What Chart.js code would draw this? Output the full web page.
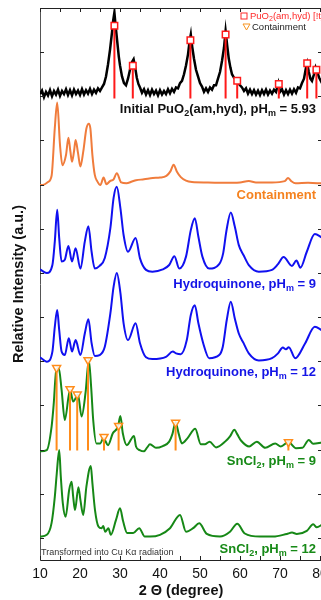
<!DOCTYPE html>
<html>
<head>
<meta charset="utf-8">
<script src="https://cdn.jsdelivr.net/npm/chart.js@4.4.1/dist/chart.umd.min.js"></script>
<style>
html, body { margin: 0; padding: 0; background: #fff; overflow: hidden; }
#wrap { width: 330px; height: 600px; }
</style>
</head>
<body>
<div id="wrap"><canvas id="xrdChart" width="330" height="600"></canvas></div>
<script>
// axis ticks (2 theta, offset units on the intensity axis)
const xTickValues = [10, 15, 20, 25, 30, 35, 40, 45, 50, 55, 60, 65, 70, 75, 80];
const yTickValues = [0, 1, 2, 3, 4, 5, 6, 7, 8, 9, 10, 11];

// Initial PuO2(am,hyd), pHm = 5.93 (black, noisy)
const initialX = [10,10.5,11,11.5,12,12.5,13,13.5,14,14.5,15,15.5,16,16.5,17,17.5,18,18.5,19,19.5,20,20.5,21,21.5,22,22.5,23,23.5,24,24.5,25,25.5,26,26.5,27,27.5,28,28.3,28.6,28.9,29.3,29.7,30,30.5,31,31.5,32,32.5,33,33.4,33.8,34.2,34.6,35,35.5,36,36.5,37,37.5,38,38.5,39,39.5,40,40.5,41,41.5,42,42.5,43,43.5,44,44.5,45,45.5,46,46.5,47,47.4,47.7,48,48.5,49,49.5,50,50.5,51,51.5,52,52.5,53,53.5,54,54.5,55,55.5,56,56.4,56.8,57.2,57.6,58,58.5,59,59.5,60,60.5,61,61.5,62,62.5,63,63.5,64,64.5,65,65.5,66,66.5,67,67.5,68,68.5,69,69.6,70,70.5,71,71.5,72,72.5,73,73.5,74,74.5,75,75.5,76,76.5,76.8,77.2,77.6,78,78.5,78.9,79.3,79.8,80.5];
const initialY = [10.05,10.13,9.98,10.10,10.02,10.14,10.00,10.12,10.04,10.15,10.01,10.12,10.05,10.16,10.03,10.14,10.02,10.15,10.05,10.13,10.03,10.16,10.04,10.14,10.06,10.17,10.05,10.15,10.08,10.18,10.12,10.2,10.28,10.45,10.72,11.05,11.45,11.72,11.9,11.6,11.25,10.9,10.7,10.45,10.3,10.25,10.4,10.6,10.78,10.84,10.65,10.42,10.28,10.2,10.08,10.16,10.04,10.14,10.03,10.15,10.05,10.13,10.02,10.14,10.04,10.12,10.05,10.16,10.07,10.17,10.1,10.2,10.18,10.3,10.35,10.5,10.7,10.95,11.25,11.4,11.15,10.85,10.6,10.45,10.3,10.22,10.1,10.18,10.1,10.2,10.15,10.25,10.25,10.4,10.55,10.8,11.1,11.48,11.15,10.85,10.65,10.5,10.42,10.38,10.3,10.25,10.2,10.12,10.18,10.06,10.15,10.05,10.14,10.04,10.13,10.03,10.14,10.05,10.15,10.04,10.13,10.06,10.15,10.1,10.3,10.1,10.16,10.04,10.14,10.05,10.15,10.06,10.16,10.08,10.2,10.18,10.3,10.4,10.65,10.75,10.55,10.4,10.35,10.5,10.65,10.55,10.42,10.3];

// PuO2(am,hyd) reference sticks
const puStickX = [28.6, 33.2, 47.6, 56.4, 59.3, 69.7, 76.8, 79.1];
const puStickTop = [11.6, 10.69, 11.27, 11.4, 10.35, 10.28, 10.75, 10.6];
const puStickBase = 9.95;

// Containment (orange)
const containX = [10,11,12,12.9,13.7,14.3,15.0,15.6,16.5,17.1,17.6,18.0,18.5,18.9,19.5,20.1,20.8,21.6,22.2,22.6,23.1,23.7,24.3,25.1,25.9,26.6,27.5,28.4,29.2,30.3,31.6,33,34,36,38.2,40,41.6,42.6,43.4,44.2,45.2,46.5,48,52,56,60,62.2,64,68,71.2,72,72.8,73.9,77,80.5];
const containY = [7.99,8.0,8.06,8.2,9.28,9.86,8.9,8.44,8.67,9.06,8.75,8.52,8.75,9.01,8.72,8.41,8.74,9.27,9.38,9.27,8.67,8.22,8.08,7.99,8.16,8.01,8.08,8.12,8.26,8.05,8.03,8.07,8.1,8.12,8.15,8.16,8.2,8.3,8.45,8.3,8.17,8.09,8.06,8.05,8.04,8.05,8.08,8.05,8.05,8.08,8.15,8.08,8.03,8.04,8.03];

// Hydroquinone, pHm = 9 (blue)
const hq9X = [10,11.7,13.1,13.7,14.3,14.8,15.4,16.2,17.1,18.0,18.9,20.1,21.2,22.1,22.9,23.7,24.9,26.2,27.6,28.4,29.2,30.1,30.9,32.0,33.9,35.0,36.5,38.1,40.7,42.3,43.6,44.8,46.5,47.7,48.7,49.6,50.6,52.3,54.8,55.8,56.6,57.7,58.7,59.7,60.9,62.2,64.7,68,69.5,70.9,73,74.1,75.1,76.7,78.7,80.5];
const hq9Y = [6.08,6.0,6.18,6.71,7.43,6.79,6.26,6.3,6.61,6.26,6.56,6.1,6.71,7.06,6.48,6.1,6.16,6.34,7.02,7.7,7.95,7.47,6.86,6.48,6.79,6.33,6.07,6.03,6.08,6.18,6.38,6.1,6.37,6.97,7.24,6.82,6.37,6.1,6.2,6.45,6.95,7.37,7.05,6.63,6.4,6.18,6.03,6.07,6.2,6.36,6.16,6.28,6.12,6.48,6.88,6.8];

// Hydroquinone, pHm = 12 (blue)
const hq12X = [10,11.7,13.1,13.7,14.3,14.8,15.4,16.2,17.2,18.0,18.9,20.1,21.2,22.1,22.9,23.7,24.9,26.2,27.6,28.4,29.2,30.1,30.9,32.0,33.9,35.0,36.5,38.1,41.5,43.2,44.0,45.2,46.7,47.7,48.7,49.6,50.8,52.3,54.8,55.7,56.7,57.7,58.7,59.7,60.9,62.2,64.7,68,69.5,70.7,71.5,72.2,73.8,76.3,78.7,80.5];
const hq12Y = [4.09,3.99,4.22,4.78,5.16,4.71,4.22,4.14,4.52,4.22,4.48,4.14,4.63,4.95,4.41,4.12,4.14,4.33,5.09,5.69,6.0,5.55,4.86,4.48,4.86,4.41,4.09,4.05,4.1,4.22,4.18,4.16,4.48,5.05,5.27,4.86,4.41,4.07,4.14,4.33,4.94,5.35,4.97,4.63,4.41,4.18,4.02,4.07,4.18,4.31,4.27,4.32,4.07,4.41,4.78,4.7];

// SnCl2, pHm = 9 (green)
const sn9X = [10,11.7,12.9,13.4,14.1,14.7,15.4,16.2,17.5,18.3,19.5,20.4,21.4,22.2,22.8,23.3,24.1,25.1,25.8,26.2,27.0,28.2,29.5,30.1,30.7,31.7,33.5,34.0,34.9,36.0,36.8,37.5,39.0,40.7,42.3,43.1,43.9,44.7,45.5,46.9,48.8,50.2,51.2,52.4,54.0,56.5,57.5,58.6,59.3,60.3,62.3,64.2,66.3,68.8,70.2,72.1,74.0,75.6,77.2,78.3,80.5];
const sn9Y = [1.96,1.99,2.52,3.0,3.82,3.84,3.35,2.67,3.35,3.09,3.24,2.75,3.3,4.03,3.4,2.67,2.14,2.14,2.26,2.22,2.1,2.37,2.52,2.76,2.37,2.1,2.31,2.07,1.99,1.96,2.05,2.12,2.04,2.08,2.18,2.35,2.62,2.35,2.14,2.26,2.47,2.12,2.12,2.18,2.05,2.2,2.3,2.45,2.35,2.2,2.07,2.18,2.04,2.14,2.07,2.17,2.03,2.04,2.22,2.13,2.16];

// Containment reference sticks on the SnCl2 pHm = 9 pattern
const contStickX = [14.15, 17.5, 19.3, 22.0, 26.0, 29.65, 43.9, 72.1];
const contStickTop = [3.85, 3.37, 3.25, 4.03, 2.29, 2.54, 2.61, 2.17];
const contStickBase = 1.98;

// SnCl2, pHm = 12 (green)
const sn12X = [10,11.7,12.9,13.7,14.2,14.8,15.2,15.7,16.4,17.3,17.9,18.3,18.75,19.6,20.1,20.8,21.6,22.7,23.1,23.75,24.6,25.4,25.8,26.3,27.1,27.7,29.0,30.0,30.8,31.8,33.3,34.8,36.2,37.5,40,42.5,45.0,46.5,48.3,49.8,51.7,55,57.5,59.3,61.2,65,68.3,71.7,73,74.2,76.7,78.3,79.2,80.5];
const sn12Y = [0.03,0.07,0.34,0.93,1.47,1.99,1.39,0.79,0.48,1.09,1.27,0.93,0.63,1.15,0.86,0.52,1.16,1.63,1.24,0.63,0.26,0.22,0.27,0.14,0.22,0.07,0.41,0.67,0.37,0.11,0.11,0.22,0.03,0.03,0.07,0.22,0.52,0.14,0.22,0.33,0.09,0.03,0.14,0.32,0.1,0.03,0.03,0.09,0.12,0.09,0.16,0.31,0.24,0.3];

// curve labels: [text, subscript?] pieces and the intensity level they sit at
const curveLabels = [
    { parts: [['Initial PuO', 0], ['2', 1], ['(am,hyd), pH', 0], ['m', 1], [' = 5.93', 0]], level: 9.71, color: '#111111' },
    { parts: [['Containment', 0]], level: 7.76, color: '#f5821f' },
    { parts: [['Hydroquinone, pH', 0], ['m', 1], [' = 9', 0]], level: 5.74, color: '#1414e6' },
    { parts: [['Hydroquinone, pH', 0], ['m', 1], [' = 12', 0]], level: 3.75, color: '#1414e6' },
    { parts: [['SnCl', 0], ['2', 1], [', pH', 0], ['m', 1], [' = 9', 0]], level: 1.74, color: '#178a17' },
    { parts: [['SnCl', 0], ['2', 1], [', pH', 0], ['m', 1], [' = 12', 0]], level: -0.25, color: '#178a17' }
];

const FONT = '"Liberation Sans", Arial, Helvetica, sans-serif';

function toPoints(xs, ys) {
    return xs.map((x, i) => ({ x: x, y: ys[i] }));
}

function toSticks(xs, tops, base) {
    const pts = [];
    xs.forEach((x, i) => {
        pts.push({ x: x, y: base }, { x: x, y: tops[i] }, { x: x, y: null });
    });
    return pts;
}

// draws text pieces with subscripts; anchor is the right edge, or the left edge if fromLeft
function drawRich(ctx, parts, anchorX, midY, size, weight, color, fromLeft) {
    const big = `${weight} ${size}px ${FONT}`;
    const small = `${weight} ${Math.round(size * 0.7)}px ${FONT}`;
    let w = 0;
    parts.forEach(p => { ctx.font = p[1] ? small : big; w += ctx.measureText(p[0]).width; });
    let x = fromLeft ? anchorX : anchorX - w;
    ctx.fillStyle = color;
    ctx.textAlign = 'left';
    ctx.textBaseline = 'middle';
    parts.forEach(p => {
        ctx.font = p[1] ? small : big;
        ctx.fillText(p[0], x, midY + (p[1] ? size * 0.32 : 0));
        x += ctx.measureText(p[0]).width;
    });
}

const decorPlugin = {
    id: 'decor',
    afterDraw(chart) {
        const ctx = chart.ctx;
        const area = chart.chartArea;
        const xs = chart.scales.x;
        const ys = chart.scales.y;
        ctx.save();

        // top and right frame
        ctx.strokeStyle = '#222';
        ctx.lineWidth = 1;
        ctx.beginPath();
        ctx.moveTo(area.left, area.top + 0.5);
        ctx.lineTo(area.right, area.top + 0.5);
        ctx.moveTo(area.right - 0.5, area.top);
        ctx.lineTo(area.right - 0.5, area.bottom);
        ctx.stroke();

        // inward tick marks
        ctx.beginPath();
        xTickValues.forEach(v => {
            const px = Math.round(xs.getPixelForValue(v)) + 0.5;
            ctx.moveTo(px, area.bottom);
            ctx.lineTo(px, area.bottom - 4);
            ctx.moveTo(px, area.top);
            ctx.lineTo(px, area.top + 4);
        });
        yTickValues.forEach(v => {
            const py = Math.round(ys.getPixelForValue(v)) + 0.5;
            ctx.moveTo(area.left, py);
            ctx.lineTo(area.left + 4, py);
            ctx.moveTo(area.right, py);
            ctx.lineTo(area.right - 4, py);
        });
        ctx.stroke();

        // curve labels
        curveLabels.forEach(l => {
            drawRich(ctx, l.parts, area.right - 6, ys.getPixelForValue(l.level), 13, 'bold', l.color, false);
        });

        // legend (top right, inside the frame)
        const lx = area.right - 78;
        ctx.strokeStyle = '#ff2a2a';
        ctx.lineWidth = 1;
        ctx.strokeRect(lx - 3, area.top + 5, 6, 6);
        drawRich(ctx, [['PuO', 0], ['2', 1], ['(am,hyd) [!t_', 0]], lx + 6, area.top + 8, 9.5, 'normal', '#ff2a2a', true);
        ctx.strokeStyle = '#f7931e';
        ctx.beginPath();
        ctx.moveTo(lx - 1, area.top + 16);
        ctx.lineTo(lx + 6, area.top + 16);
        ctx.lineTo(lx + 2.5, area.top + 22);
        ctx.closePath();
        ctx.stroke();
        ctx.font = `9.5px ${FONT}`;
        ctx.fillStyle = '#222';
        ctx.textAlign = 'left';
        ctx.textBaseline = 'middle';
        ctx.fillText('Containment', lx + 8, area.top + 19);

        // note
        ctx.font = `9px ${FONT}`;
        ctx.fillStyle = '#333';
        ctx.fillText('Transformed into Cu K\u03b1 radiation', area.left + 1, area.bottom - 7);
        ctx.restore();
    }
};

const curveStyle = (color, width) => ({
    borderColor: color,
    borderWidth: width,
    pointRadius: 0,
    fill: false,
    cubicInterpolationMode: 'monotone',
    order: 3
});

new Chart(document.getElementById('xrdChart'), {
    type: 'line',
    data: {
        datasets: [
            { label: 'PuO2 markers', data: toPoints(puStickX, puStickTop), showLine: false, pointStyle: 'rect', pointRadius: 4.6, pointBorderColor: '#ff1a1a', pointBackgroundColor: '#ffffff', pointBorderWidth: 1.5, order: 0 },
            { label: 'PuO2 sticks', data: toSticks(puStickX, puStickTop, puStickBase), borderColor: '#ff1a1a', borderWidth: 2, pointRadius: 0, spanGaps: false, order: 1 },
            { label: 'Containment markers', data: toPoints(contStickX, contStickTop), showLine: false, pointStyle: 'triangle', rotation: 180, pointRadius: 4.6, pointBorderColor: '#ff8c1a', pointBackgroundColor: 'rgba(255,255,255,0.85)', pointBorderWidth: 1.5, order: 0 },
            { label: 'Containment sticks', data: toSticks(contStickX, contStickTop, contStickBase), borderColor: '#ff8c1a', borderWidth: 2, pointRadius: 0, spanGaps: false, order: 1 },
            Object.assign({ label: 'Initial', data: toPoints(initialX, initialY) }, curveStyle('#000000', 2.5), { cubicInterpolationMode: 'default', tension: 0 }),
            Object.assign({ label: 'Containment', data: toPoints(containX, containY) }, curveStyle('#f07c3c', 2)),
            Object.assign({ label: 'HQ9', data: toPoints(hq9X, hq9Y) }, curveStyle('#1010f0', 2)),
            Object.assign({ label: 'HQ12', data: toPoints(hq12X, hq12Y) }, curveStyle('#1010f0', 2)),
            Object.assign({ label: 'Sn9', data: toPoints(sn9X, sn9Y) }, curveStyle('#168816', 2)),
            Object.assign({ label: 'Sn12', data: toPoints(sn12X, sn12Y) }, curveStyle('#168816', 2))
        ]
    },
    options: {
        responsive: false,
        animation: false,
        devicePixelRatio: 1,
        layout: { padding: { top: 8, right: 8, bottom: 0, left: 0 } },
        scales: {
            x: {
                type: 'linear',
                min: 10,
                max: 80.5,
                afterBuildTicks: scale => { scale.ticks = xTickValues.map(v => ({ value: v })); },
                afterFit: scale => { scale.height = 40; },
                ticks: {
                    autoSkip: false,
                    maxRotation: 0,
                    padding: -2,
                    color: '#111',
                    font: { family: FONT, size: 14 },
                    callback: v => (v % 10 === 0 ? String(v) : '')
                },
                grid: { display: false },
                border: { display: true, color: '#222', width: 1 },
                title: {
                    display: true,
                    text: '2 \u0398 (degree)',
                    color: '#111',
                    font: { family: FONT, size: 14.5, weight: 'bold' },
                    padding: { top: 0, bottom: 0 }
                }
            },
            y: {
                type: 'linear',
                min: -0.5,
                max: 12,
                afterBuildTicks: scale => { scale.ticks = yTickValues.map(v => ({ value: v })); },
                afterFit: scale => { scale.width = 40; },
                ticks: { display: false },
                grid: { display: false },
                border: { display: true, color: '#555', width: 1 },
                title: {
                    display: true,
                    text: 'Relative Intensity (a.u.)',
                    color: '#111',
                    font: { family: FONT, size: 14.5, weight: 'bold' },
                    padding: { top: 10, bottom: 0 }
                }
            }
        },
        plugins: {
            legend: { display: false },
            tooltip: { enabled: false }
        }
    },
    plugins: [decorPlugin]
});
</script>
</body>
</html>
